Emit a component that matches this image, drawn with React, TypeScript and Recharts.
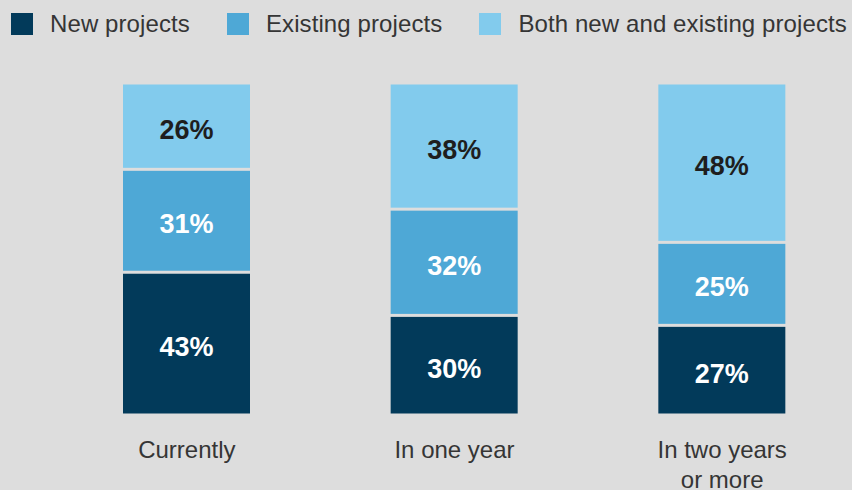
import { Bar, BarChart, LabelList, XAxis, YAxis } from "recharts";

const categories = ["Currently", "In one year", "In two years\nor more"];
const newProjects = [43, 30, 27];
const existingProjects = [31, 32, 25];
const bothProjects = [26, 38, 48];

const seriesNames = ["New projects", "Existing projects", "Both new and existing projects"];
const colors = ["#023a5a", "#4ea8d6", "#82cbed"];
const labelColors = ["#ffffff", "#ffffff", "#1e1e1e"];

const data = categories.map((name, i) => ({
  name,
  newProjects: newProjects[i],
  existingProjects: existingProjects[i],
  bothProjects: bothProjects[i]
}));

const keys = ["newProjects", "existingProjects", "bothProjects"];
const font = "'Liberation Sans', Arial, Helvetica, sans-serif";
const bg = "#dddddd";

function GapRect(props: any) {
  const { x, y, width, height, fill } = props;
  if (!height) return null;
  return <rect x={x} y={y + 1.5} width={width} height={Math.max(0, height - 3)} fill={fill} />;
}

function CategoryTick({ x, y, payload }: any) {
  const lines = String(payload.value).split("\n");
  return (
    <text x={x} y={y} textAnchor="middle" fill="#353535" fontSize={24} fontFamily={font}>
      {lines.map((line, i) => (
        <tspan key={line} x={x} y={y + 35 + i * 30}>
          {line}
        </tspan>
      ))}
    </text>
  );
}

function TopLegend() {
  return (
    <div
      style={{
        position: "absolute",
        top: 10,
        left: 11,
        display: "flex",
        alignItems: "center",
        fontFamily: font,
        fontSize: 24,
        letterSpacing: 0.1,
        color: "#353535",
        whiteSpace: "nowrap"
      }}
    >
      {seriesNames.map((name, i) => (
        <div key={name} style={{ display: "flex", alignItems: "center", marginRight: 37 }}>
          <span style={{ width: 22, height: 22, background: colors[i], marginRight: 17 }} />
          <span>{name}</span>
        </div>
      ))}
    </div>
  );
}

export default function App() {
  return (
    <div
      style={{
        position: "absolute",
        left: 0,
        top: 0,
        width: 852,
        height: 490,
        overflow: "hidden",
        background: bg
      }}
    >
      <TopLegend />
      <BarChart width={856} height={490} data={data} margin={{ top: 83, right: 0, left: 53, bottom: 0 }}>
        <YAxis hide domain={[0, 100]} />
        <XAxis
          dataKey="name"
          interval={0}
          height={75}
          axisLine={false}
          tickLine={false}
          tick={<CategoryTick />}
        />
        {keys.map((key, i) => (
          <Bar
            key={key}
            dataKey={key}
            stackId="a"
            barSize={127}
            fill={colors[i]}
            shape={<GapRect />}
            isAnimationActive={false}
          >
            <LabelList
              dataKey={key}
              position="center"
              formatter={(v: any) => `${v}%`}
              fill={labelColors[i]}
              fontSize={27}
              fontWeight="bold"
              fontFamily={font}
              dy={3}
            />
          </Bar>
        ))}
      </BarChart>
    </div>
  );
}
